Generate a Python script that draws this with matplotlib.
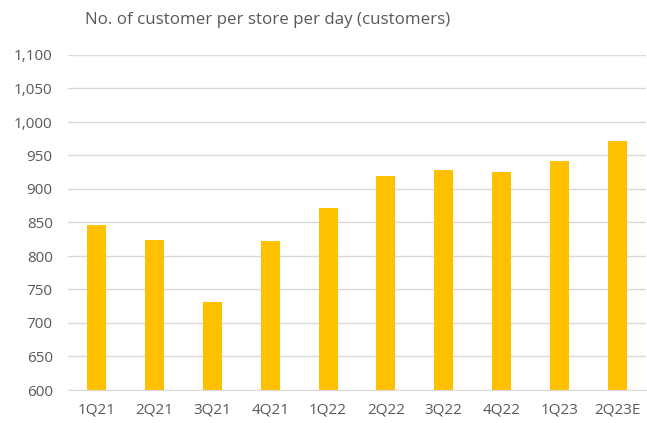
import matplotlib
matplotlib.use("Agg")
import matplotlib.pyplot as plt
from matplotlib.ticker import FuncFormatter

plt.rcParams['font.family'] = ['Open Sans', 'DejaVu Sans']

# customers per store per day, by quarter
quarters = ['1Q21', '2Q21', '3Q21', '4Q21', '1Q22', '2Q22', '3Q22', '4Q22', '1Q23', '2Q23E']
customers = [846, 824, 731, 822, 871, 919, 928, 926, 942, 971]

grey = '#595959'

fig = plt.figure(figsize=(6.47, 4.23), dpi=100)
ax = fig.add_axes([68 / 647, 1 - 390 / 423, 578 / 647, 335 / 423])

ax.bar(range(len(quarters)), customers, width=0.33, color='#FFC000', zorder=2)

ax.set_ylim(600, 1100)
ax.set_xlim(-0.5, len(quarters) - 0.5)
ax.set_yticks(range(600, 1101, 50))
ax.yaxis.set_major_formatter(FuncFormatter(lambda v, p: f'{int(v):,}'))
ax.set_xticks(range(len(quarters)))
ax.set_xticklabels(quarters)

ax.grid(axis='y', color='#D9D9D9', linewidth=1, zorder=0)
for s in ['top', 'right', 'left']:
    ax.spines[s].set_visible(False)
ax.spines['bottom'].set_color('#D9D9D9')
ax.tick_params(axis='both', length=0, colors=grey, labelsize=11)
ax.tick_params(axis='y', pad=11)
ax.tick_params(axis='x', pad=9)

fig.text(268 / 647, 1 - 20 / 423, 'No. of customer per store per day (customers)',
         ha='center', va='center', fontsize=12.2, color=grey)

fig.savefig('out.png', dpi=100)
